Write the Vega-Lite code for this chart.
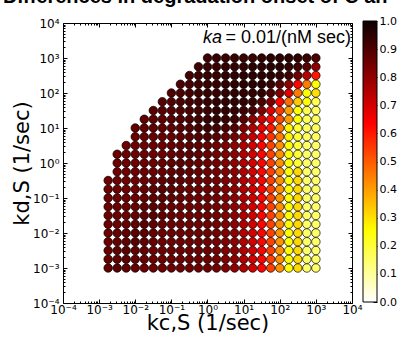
{
"$schema": "https://vega.github.io/schema/vega-lite/v6.json",
"autosize": {"type": "none"},
"padding": {"left": 63, "top": 23, "right": 48, "bottom": 39},
"width": 289,
"height": 280,
"background": "white",
"title": {"text": "Differences in degradation onset of C an", "anchor": "start", "frame": "group", "dx": -60, "offset": 8, "font": "Liberation Sans", "fontSize": 20, "fontWeight": "bold", "color": "black"},
"config": {"view": {"stroke": "black", "strokeWidth": 1}, "axis": {"grid": false, "domain": false, "tickColor": "black", "tickWidth": 1, "labelColor": "black", "labelFont": "DejaVu Sans", "labelFontSize": 12, "labelFlush": false, "labelOverlap": false, "labelBound": false}},
"datasets": {
"pts": [
{"kc":0.001778,"kd":0.001,"v":0.87},{"kc":0.003162,"kd":0.001,"v":0.88},{"kc":0.005623,"kd":0.001,"v":0.87},{"kc":0.01,"kd":0.001,"v":0.86},{"kc":0.01778,"kd":0.001,"v":0.85},{"kc":0.03162,"kd":0.001,"v":0.85},{"kc":0.05623,"kd":0.001,"v":0.85},{"kc":0.1,"kd":0.001,"v":0.85},{"kc":0.1778,"kd":0.001,"v":0.85},{"kc":0.3162,"kd":0.001,"v":0.85},{"kc":0.5623,"kd":0.001,"v":0.85},{"kc":1,"kd":0.001,"v":0.85},{"kc":1.778,"kd":0.001,"v":0.84},{"kc":3.162,"kd":0.001,"v":0.82},{"kc":5.623,"kd":0.001,"v":0.8},{"kc":10,"kd":0.001,"v":0.75},{"kc":17.78,"kd":0.001,"v":0.7},{"kc":31.62,"kd":0.001,"v":0.63},{"kc":56.23,"kd":0.001,"v":0.54},{"kc":100,"kd":0.001,"v":0.42},{"kc":177.8,"kd":0.001,"v":0.26},{"kc":316.2,"kd":0.001,"v":0.31},{"kc":562.3,"kd":0.001,"v":0.15},{"kc":1000,"kd":0.001,"v":0.15},
{"kc":0.001778,"kd":0.001778,"v":0.86},{"kc":0.003162,"kd":0.001778,"v":0.87},{"kc":0.005623,"kd":0.001778,"v":0.88},{"kc":0.01,"kd":0.001778,"v":0.87},{"kc":0.01778,"kd":0.001778,"v":0.86},{"kc":0.03162,"kd":0.001778,"v":0.85},{"kc":0.05623,"kd":0.001778,"v":0.85},{"kc":0.1,"kd":0.001778,"v":0.85},{"kc":0.1778,"kd":0.001778,"v":0.85},{"kc":0.3162,"kd":0.001778,"v":0.85},{"kc":0.5623,"kd":0.001778,"v":0.85},{"kc":1,"kd":0.001778,"v":0.85},{"kc":1.778,"kd":0.001778,"v":0.84},{"kc":3.162,"kd":0.001778,"v":0.82},{"kc":5.623,"kd":0.001778,"v":0.8},{"kc":10,"kd":0.001778,"v":0.75},{"kc":17.78,"kd":0.001778,"v":0.7},{"kc":31.62,"kd":0.001778,"v":0.63},{"kc":56.23,"kd":0.001778,"v":0.54},{"kc":100,"kd":0.001778,"v":0.42},{"kc":177.8,"kd":0.001778,"v":0.26},{"kc":316.2,"kd":0.001778,"v":0.31},{"kc":562.3,"kd":0.001778,"v":0.15},{"kc":1000,"kd":0.001778,"v":0.15},
{"kc":0.001778,"kd":0.003162,"v":0.86},{"kc":0.003162,"kd":0.003162,"v":0.87},{"kc":0.005623,"kd":0.003162,"v":0.88},{"kc":0.01,"kd":0.003162,"v":0.87},{"kc":0.01778,"kd":0.003162,"v":0.86},{"kc":0.03162,"kd":0.003162,"v":0.85},{"kc":0.05623,"kd":0.003162,"v":0.85},{"kc":0.1,"kd":0.003162,"v":0.85},{"kc":0.1778,"kd":0.003162,"v":0.85},{"kc":0.3162,"kd":0.003162,"v":0.85},{"kc":0.5623,"kd":0.003162,"v":0.85},{"kc":1,"kd":0.003162,"v":0.85},{"kc":1.778,"kd":0.003162,"v":0.84},{"kc":3.162,"kd":0.003162,"v":0.82},{"kc":5.623,"kd":0.003162,"v":0.8},{"kc":10,"kd":0.003162,"v":0.75},{"kc":17.78,"kd":0.003162,"v":0.7},{"kc":31.62,"kd":0.003162,"v":0.63},{"kc":56.23,"kd":0.003162,"v":0.54},{"kc":100,"kd":0.003162,"v":0.42},{"kc":177.8,"kd":0.003162,"v":0.26},{"kc":316.2,"kd":0.003162,"v":0.31},{"kc":562.3,"kd":0.003162,"v":0.15},{"kc":1000,"kd":0.003162,"v":0.15},
{"kc":0.001778,"kd":0.005623,"v":0.85},{"kc":0.003162,"kd":0.005623,"v":0.86},{"kc":0.005623,"kd":0.005623,"v":0.87},{"kc":0.01,"kd":0.005623,"v":0.88},{"kc":0.01778,"kd":0.005623,"v":0.87},{"kc":0.03162,"kd":0.005623,"v":0.86},{"kc":0.05623,"kd":0.005623,"v":0.85},{"kc":0.1,"kd":0.005623,"v":0.85},{"kc":0.1778,"kd":0.005623,"v":0.85},{"kc":0.3162,"kd":0.005623,"v":0.85},{"kc":0.5623,"kd":0.005623,"v":0.85},{"kc":1,"kd":0.005623,"v":0.85},{"kc":1.778,"kd":0.005623,"v":0.84},{"kc":3.162,"kd":0.005623,"v":0.82},{"kc":5.623,"kd":0.005623,"v":0.8},{"kc":10,"kd":0.005623,"v":0.75},{"kc":17.78,"kd":0.005623,"v":0.7},{"kc":31.62,"kd":0.005623,"v":0.63},{"kc":56.23,"kd":0.005623,"v":0.54},{"kc":100,"kd":0.005623,"v":0.42},{"kc":177.8,"kd":0.005623,"v":0.26},{"kc":316.2,"kd":0.005623,"v":0.31},{"kc":562.3,"kd":0.005623,"v":0.15},{"kc":1000,"kd":0.005623,"v":0.15},
{"kc":0.001778,"kd":0.01,"v":0.85},{"kc":0.003162,"kd":0.01,"v":0.86},{"kc":0.005623,"kd":0.01,"v":0.87},{"kc":0.01,"kd":0.01,"v":0.88},{"kc":0.01778,"kd":0.01,"v":0.87},{"kc":0.03162,"kd":0.01,"v":0.86},{"kc":0.05623,"kd":0.01,"v":0.85},{"kc":0.1,"kd":0.01,"v":0.85},{"kc":0.1778,"kd":0.01,"v":0.85},{"kc":0.3162,"kd":0.01,"v":0.85},{"kc":0.5623,"kd":0.01,"v":0.85},{"kc":1,"kd":0.01,"v":0.85},{"kc":1.778,"kd":0.01,"v":0.84},{"kc":3.162,"kd":0.01,"v":0.82},{"kc":5.623,"kd":0.01,"v":0.8},{"kc":10,"kd":0.01,"v":0.75},{"kc":17.78,"kd":0.01,"v":0.7},{"kc":31.62,"kd":0.01,"v":0.63},{"kc":56.23,"kd":0.01,"v":0.54},{"kc":100,"kd":0.01,"v":0.42},{"kc":177.8,"kd":0.01,"v":0.26},{"kc":316.2,"kd":0.01,"v":0.31},{"kc":562.3,"kd":0.01,"v":0.15},{"kc":1000,"kd":0.01,"v":0.15},
{"kc":0.001778,"kd":0.01778,"v":0.85},{"kc":0.003162,"kd":0.01778,"v":0.85},{"kc":0.005623,"kd":0.01778,"v":0.86},{"kc":0.01,"kd":0.01778,"v":0.87},{"kc":0.01778,"kd":0.01778,"v":0.88},{"kc":0.03162,"kd":0.01778,"v":0.87},{"kc":0.05623,"kd":0.01778,"v":0.86},{"kc":0.1,"kd":0.01778,"v":0.85},{"kc":0.1778,"kd":0.01778,"v":0.85},{"kc":0.3162,"kd":0.01778,"v":0.85},{"kc":0.5623,"kd":0.01778,"v":0.85},{"kc":1,"kd":0.01778,"v":0.85},{"kc":1.778,"kd":0.01778,"v":0.84},{"kc":3.162,"kd":0.01778,"v":0.82},{"kc":5.623,"kd":0.01778,"v":0.8},{"kc":10,"kd":0.01778,"v":0.75},{"kc":17.78,"kd":0.01778,"v":0.7},{"kc":31.62,"kd":0.01778,"v":0.63},{"kc":56.23,"kd":0.01778,"v":0.54},{"kc":100,"kd":0.01778,"v":0.42},{"kc":177.8,"kd":0.01778,"v":0.26},{"kc":316.2,"kd":0.01778,"v":0.31},{"kc":562.3,"kd":0.01778,"v":0.15},{"kc":1000,"kd":0.01778,"v":0.15},
{"kc":0.001778,"kd":0.03162,"v":0.85},{"kc":0.003162,"kd":0.03162,"v":0.85},{"kc":0.005623,"kd":0.03162,"v":0.85},{"kc":0.01,"kd":0.03162,"v":0.86},{"kc":0.01778,"kd":0.03162,"v":0.87},{"kc":0.03162,"kd":0.03162,"v":0.88},{"kc":0.05623,"kd":0.03162,"v":0.87},{"kc":0.1,"kd":0.03162,"v":0.86},{"kc":0.1778,"kd":0.03162,"v":0.85},{"kc":0.3162,"kd":0.03162,"v":0.85},{"kc":0.5623,"kd":0.03162,"v":0.85},{"kc":1,"kd":0.03162,"v":0.85},{"kc":1.778,"kd":0.03162,"v":0.84},{"kc":3.162,"kd":0.03162,"v":0.82},{"kc":5.623,"kd":0.03162,"v":0.8},{"kc":10,"kd":0.03162,"v":0.75},{"kc":17.78,"kd":0.03162,"v":0.7},{"kc":31.62,"kd":0.03162,"v":0.63},{"kc":56.23,"kd":0.03162,"v":0.54},{"kc":100,"kd":0.03162,"v":0.42},{"kc":177.8,"kd":0.03162,"v":0.26},{"kc":316.2,"kd":0.03162,"v":0.31},{"kc":562.3,"kd":0.03162,"v":0.15},{"kc":1000,"kd":0.03162,"v":0.15},
{"kc":0.001778,"kd":0.05623,"v":0.85},{"kc":0.003162,"kd":0.05623,"v":0.85},{"kc":0.005623,"kd":0.05623,"v":0.85},{"kc":0.01,"kd":0.05623,"v":0.86},{"kc":0.01778,"kd":0.05623,"v":0.87},{"kc":0.03162,"kd":0.05623,"v":0.88},{"kc":0.05623,"kd":0.05623,"v":0.87},{"kc":0.1,"kd":0.05623,"v":0.86},{"kc":0.1778,"kd":0.05623,"v":0.85},{"kc":0.3162,"kd":0.05623,"v":0.85},{"kc":0.5623,"kd":0.05623,"v":0.85},{"kc":1,"kd":0.05623,"v":0.85},{"kc":1.778,"kd":0.05623,"v":0.84},{"kc":3.162,"kd":0.05623,"v":0.82},{"kc":5.623,"kd":0.05623,"v":0.8},{"kc":10,"kd":0.05623,"v":0.75},{"kc":17.78,"kd":0.05623,"v":0.7},{"kc":31.62,"kd":0.05623,"v":0.63},{"kc":56.23,"kd":0.05623,"v":0.54},{"kc":100,"kd":0.05623,"v":0.42},{"kc":177.8,"kd":0.05623,"v":0.26},{"kc":316.2,"kd":0.05623,"v":0.31},{"kc":562.3,"kd":0.05623,"v":0.15},{"kc":1000,"kd":0.05623,"v":0.15},
{"kc":0.001778,"kd":0.1,"v":0.85},{"kc":0.003162,"kd":0.1,"v":0.85},{"kc":0.005623,"kd":0.1,"v":0.85},{"kc":0.01,"kd":0.1,"v":0.85},{"kc":0.01778,"kd":0.1,"v":0.86},{"kc":0.03162,"kd":0.1,"v":0.87},{"kc":0.05623,"kd":0.1,"v":0.88},{"kc":0.1,"kd":0.1,"v":0.87},{"kc":0.1778,"kd":0.1,"v":0.86},{"kc":0.3162,"kd":0.1,"v":0.85},{"kc":0.5623,"kd":0.1,"v":0.85},{"kc":1,"kd":0.1,"v":0.85},{"kc":1.778,"kd":0.1,"v":0.84},{"kc":3.162,"kd":0.1,"v":0.82},{"kc":5.623,"kd":0.1,"v":0.8},{"kc":10,"kd":0.1,"v":0.75},{"kc":17.78,"kd":0.1,"v":0.7},{"kc":31.62,"kd":0.1,"v":0.63},{"kc":56.23,"kd":0.1,"v":0.54},{"kc":100,"kd":0.1,"v":0.42},{"kc":177.8,"kd":0.1,"v":0.26},{"kc":316.2,"kd":0.1,"v":0.31},{"kc":562.3,"kd":0.1,"v":0.15},{"kc":1000,"kd":0.1,"v":0.15},
{"kc":0.001778,"kd":0.1778,"v":0.85},{"kc":0.003162,"kd":0.1778,"v":0.85},{"kc":0.005623,"kd":0.1778,"v":0.85},{"kc":0.01,"kd":0.1778,"v":0.85},{"kc":0.01778,"kd":0.1778,"v":0.86},{"kc":0.03162,"kd":0.1778,"v":0.87},{"kc":0.05623,"kd":0.1778,"v":0.88},{"kc":0.1,"kd":0.1778,"v":0.87},{"kc":0.1778,"kd":0.1778,"v":0.86},{"kc":0.3162,"kd":0.1778,"v":0.85},{"kc":0.5623,"kd":0.1778,"v":0.85},{"kc":1,"kd":0.1778,"v":0.85},{"kc":1.778,"kd":0.1778,"v":0.84},{"kc":3.162,"kd":0.1778,"v":0.82},{"kc":5.623,"kd":0.1778,"v":0.8},{"kc":10,"kd":0.1778,"v":0.75},{"kc":17.78,"kd":0.1778,"v":0.7},{"kc":31.62,"kd":0.1778,"v":0.63},{"kc":56.23,"kd":0.1778,"v":0.54},{"kc":100,"kd":0.1778,"v":0.42},{"kc":177.8,"kd":0.1778,"v":0.26},{"kc":316.2,"kd":0.1778,"v":0.31},{"kc":562.3,"kd":0.1778,"v":0.15},{"kc":1000,"kd":0.1778,"v":0.15},
{"kc":0.001778,"kd":0.3162,"v":0.85},{"kc":0.003162,"kd":0.3162,"v":0.85},{"kc":0.005623,"kd":0.3162,"v":0.85},{"kc":0.01,"kd":0.3162,"v":0.85},{"kc":0.01778,"kd":0.3162,"v":0.85},{"kc":0.03162,"kd":0.3162,"v":0.86},{"kc":0.05623,"kd":0.3162,"v":0.87},{"kc":0.1,"kd":0.3162,"v":0.88},{"kc":0.1778,"kd":0.3162,"v":0.87},{"kc":0.3162,"kd":0.3162,"v":0.86},{"kc":0.5623,"kd":0.3162,"v":0.85},{"kc":1,"kd":0.3162,"v":0.85},{"kc":1.778,"kd":0.3162,"v":0.84},{"kc":3.162,"kd":0.3162,"v":0.82},{"kc":5.623,"kd":0.3162,"v":0.8},{"kc":10,"kd":0.3162,"v":0.75},{"kc":17.78,"kd":0.3162,"v":0.7},{"kc":31.62,"kd":0.3162,"v":0.63},{"kc":56.23,"kd":0.3162,"v":0.54},{"kc":100,"kd":0.3162,"v":0.42},{"kc":177.8,"kd":0.3162,"v":0.26},{"kc":316.2,"kd":0.3162,"v":0.31},{"kc":562.3,"kd":0.3162,"v":0.15},{"kc":1000,"kd":0.3162,"v":0.15},
{"kc":0.003162,"kd":0.5623,"v":0.85},{"kc":0.005623,"kd":0.5623,"v":0.85},{"kc":0.01,"kd":0.5623,"v":0.85},{"kc":0.01778,"kd":0.5623,"v":0.85},{"kc":0.03162,"kd":0.5623,"v":0.85},{"kc":0.05623,"kd":0.5623,"v":0.86},{"kc":0.1,"kd":0.5623,"v":0.87},{"kc":0.1778,"kd":0.5623,"v":0.88},{"kc":0.3162,"kd":0.5623,"v":0.87},{"kc":0.5623,"kd":0.5623,"v":0.86},{"kc":1,"kd":0.5623,"v":0.85},{"kc":1.778,"kd":0.5623,"v":0.84},{"kc":3.162,"kd":0.5623,"v":0.82},{"kc":5.623,"kd":0.5623,"v":0.8},{"kc":10,"kd":0.5623,"v":0.75},{"kc":17.78,"kd":0.5623,"v":0.7},{"kc":31.62,"kd":0.5623,"v":0.63},{"kc":56.23,"kd":0.5623,"v":0.54},{"kc":100,"kd":0.5623,"v":0.42},{"kc":177.8,"kd":0.5623,"v":0.26},{"kc":316.2,"kd":0.5623,"v":0.31},{"kc":562.3,"kd":0.5623,"v":0.15},{"kc":1000,"kd":0.5623,"v":0.15},
{"kc":0.003162,"kd":1,"v":0.85},{"kc":0.005623,"kd":1,"v":0.85},{"kc":0.01,"kd":1,"v":0.85},{"kc":0.01778,"kd":1,"v":0.85},{"kc":0.03162,"kd":1,"v":0.85},{"kc":0.05623,"kd":1,"v":0.86},{"kc":0.1,"kd":1,"v":0.87},{"kc":0.1778,"kd":1,"v":0.88},{"kc":0.3162,"kd":1,"v":0.87},{"kc":0.5623,"kd":1,"v":0.86},{"kc":1,"kd":1,"v":0.85},{"kc":1.778,"kd":1,"v":0.84},{"kc":3.162,"kd":1,"v":0.82},{"kc":5.623,"kd":1,"v":0.8},{"kc":10,"kd":1,"v":0.75},{"kc":17.78,"kd":1,"v":0.7},{"kc":31.62,"kd":1,"v":0.63},{"kc":56.23,"kd":1,"v":0.54},{"kc":100,"kd":1,"v":0.42},{"kc":177.8,"kd":1,"v":0.26},{"kc":316.2,"kd":1,"v":0.2},{"kc":562.3,"kd":1,"v":0.15},{"kc":1000,"kd":1,"v":0.15},
{"kc":0.003162,"kd":1.778,"v":0.85},{"kc":0.005623,"kd":1.778,"v":0.85},{"kc":0.01,"kd":1.778,"v":0.85},{"kc":0.01778,"kd":1.778,"v":0.85},{"kc":0.03162,"kd":1.778,"v":0.85},{"kc":0.05623,"kd":1.778,"v":0.85},{"kc":0.1,"kd":1.778,"v":0.86},{"kc":0.1778,"kd":1.778,"v":0.87},{"kc":0.3162,"kd":1.778,"v":0.88},{"kc":0.5623,"kd":1.778,"v":0.87},{"kc":1,"kd":1.778,"v":0.86},{"kc":1.778,"kd":1.778,"v":0.84},{"kc":3.162,"kd":1.778,"v":0.82},{"kc":5.623,"kd":1.778,"v":0.8},{"kc":10,"kd":1.778,"v":0.75},{"kc":17.78,"kd":1.778,"v":0.7},{"kc":31.62,"kd":1.778,"v":0.63},{"kc":56.23,"kd":1.778,"v":0.54},{"kc":100,"kd":1.778,"v":0.42},{"kc":177.8,"kd":1.778,"v":0.26},{"kc":316.2,"kd":1.778,"v":0.2},{"kc":562.3,"kd":1.778,"v":0.15},{"kc":1000,"kd":1.778,"v":0.15},
{"kc":0.005623,"kd":3.162,"v":0.85},{"kc":0.01,"kd":3.162,"v":0.85},{"kc":0.01778,"kd":3.162,"v":0.85},{"kc":0.03162,"kd":3.162,"v":0.85},{"kc":0.05623,"kd":3.162,"v":0.85},{"kc":0.1,"kd":3.162,"v":0.86},{"kc":0.1778,"kd":3.162,"v":0.87},{"kc":0.3162,"kd":3.162,"v":0.88},{"kc":0.5623,"kd":3.162,"v":0.87},{"kc":1,"kd":3.162,"v":0.86},{"kc":1.778,"kd":3.162,"v":0.84},{"kc":3.162,"kd":3.162,"v":0.82},{"kc":5.623,"kd":3.162,"v":0.8},{"kc":10,"kd":3.162,"v":0.75},{"kc":17.78,"kd":3.162,"v":0.7},{"kc":31.62,"kd":3.162,"v":0.63},{"kc":56.23,"kd":3.162,"v":0.54},{"kc":100,"kd":3.162,"v":0.42},{"kc":177.8,"kd":3.162,"v":0.26},{"kc":316.2,"kd":3.162,"v":0.2},{"kc":562.3,"kd":3.162,"v":0.15},{"kc":1000,"kd":3.162,"v":0.15},
{"kc":0.01,"kd":5.623,"v":0.86},{"kc":0.01778,"kd":5.623,"v":0.86},{"kc":0.03162,"kd":5.623,"v":0.86},{"kc":0.05623,"kd":5.623,"v":0.86},{"kc":0.1,"kd":5.623,"v":0.86},{"kc":0.1778,"kd":5.623,"v":0.87},{"kc":0.3162,"kd":5.623,"v":0.88},{"kc":0.5623,"kd":5.623,"v":0.89},{"kc":1,"kd":5.623,"v":0.9},{"kc":1.778,"kd":5.623,"v":0.88},{"kc":3.162,"kd":5.623,"v":0.86},{"kc":5.623,"kd":5.623,"v":0.84},{"kc":10,"kd":5.623,"v":0.78},{"kc":17.78,"kd":5.623,"v":0.72},{"kc":31.62,"kd":5.623,"v":0.64},{"kc":56.23,"kd":5.623,"v":0.56},{"kc":100,"kd":5.623,"v":0.45},{"kc":177.8,"kd":5.623,"v":0.27},{"kc":316.2,"kd":5.623,"v":0.2},{"kc":562.3,"kd":5.623,"v":0.16},{"kc":1000,"kd":5.623,"v":0.16},
{"kc":0.01,"kd":10,"v":0.87},{"kc":0.01778,"kd":10,"v":0.87},{"kc":0.03162,"kd":10,"v":0.87},{"kc":0.05623,"kd":10,"v":0.87},{"kc":0.1,"kd":10,"v":0.87},{"kc":0.1778,"kd":10,"v":0.88},{"kc":0.3162,"kd":10,"v":0.89},{"kc":0.5623,"kd":10,"v":0.91},{"kc":1,"kd":10,"v":0.92},{"kc":1.778,"kd":10,"v":0.91},{"kc":3.162,"kd":10,"v":0.9},{"kc":5.623,"kd":10,"v":0.89},{"kc":10,"kd":10,"v":0.82},{"kc":17.78,"kd":10,"v":0.74},{"kc":31.62,"kd":10,"v":0.66},{"kc":56.23,"kd":10,"v":0.6},{"kc":100,"kd":10,"v":0.45},{"kc":177.8,"kd":10,"v":0.27},{"kc":316.2,"kd":10,"v":0.2},{"kc":562.3,"kd":10,"v":0.16},{"kc":1000,"kd":10,"v":0.16},
{"kc":0.01778,"kd":17.78,"v":0.87},{"kc":0.03162,"kd":17.78,"v":0.87},{"kc":0.05623,"kd":17.78,"v":0.87},{"kc":0.1,"kd":17.78,"v":0.88},{"kc":0.1778,"kd":17.78,"v":0.89},{"kc":0.3162,"kd":17.78,"v":0.9},{"kc":0.5623,"kd":17.78,"v":0.91},{"kc":1,"kd":17.78,"v":0.93},{"kc":1.778,"kd":17.78,"v":0.94},{"kc":3.162,"kd":17.78,"v":0.93},{"kc":5.623,"kd":17.78,"v":0.92},{"kc":10,"kd":17.78,"v":0.88},{"kc":17.78,"kd":17.78,"v":0.8},{"kc":31.62,"kd":17.78,"v":0.7},{"kc":56.23,"kd":17.78,"v":0.62},{"kc":100,"kd":17.78,"v":0.52},{"kc":177.8,"kd":17.78,"v":0.4},{"kc":316.2,"kd":17.78,"v":0.25},{"kc":562.3,"kd":17.78,"v":0.17},{"kc":1000,"kd":17.78,"v":0.16},
{"kc":0.03162,"kd":31.62,"v":0.88},{"kc":0.05623,"kd":31.62,"v":0.88},{"kc":0.1,"kd":31.62,"v":0.88},{"kc":0.1778,"kd":31.62,"v":0.89},{"kc":0.3162,"kd":31.62,"v":0.9},{"kc":0.5623,"kd":31.62,"v":0.91},{"kc":1,"kd":31.62,"v":0.92},{"kc":1.778,"kd":31.62,"v":0.94},{"kc":3.162,"kd":31.62,"v":0.94},{"kc":5.623,"kd":31.62,"v":0.93},{"kc":10,"kd":31.62,"v":0.92},{"kc":17.78,"kd":31.62,"v":0.9},{"kc":31.62,"kd":31.62,"v":0.82},{"kc":56.23,"kd":31.62,"v":0.68},{"kc":100,"kd":31.62,"v":0.55},{"kc":177.8,"kd":31.62,"v":0.4},{"kc":316.2,"kd":31.62,"v":0.25},{"kc":562.3,"kd":31.62,"v":0.18},{"kc":1000,"kd":31.62,"v":0.16},
{"kc":0.05623,"kd":56.23,"v":0.88},{"kc":0.1,"kd":56.23,"v":0.89},{"kc":0.1778,"kd":56.23,"v":0.9},{"kc":0.3162,"kd":56.23,"v":0.91},{"kc":0.5623,"kd":56.23,"v":0.92},{"kc":1,"kd":56.23,"v":0.93},{"kc":1.778,"kd":56.23,"v":0.94},{"kc":3.162,"kd":56.23,"v":0.94},{"kc":5.623,"kd":56.23,"v":0.94},{"kc":10,"kd":56.23,"v":0.94},{"kc":17.78,"kd":56.23,"v":0.93},{"kc":31.62,"kd":56.23,"v":0.9},{"kc":56.23,"kd":56.23,"v":0.83},{"kc":100,"kd":56.23,"v":0.63},{"kc":177.8,"kd":56.23,"v":0.47},{"kc":316.2,"kd":56.23,"v":0.33},{"kc":562.3,"kd":56.23,"v":0.25},{"kc":1000,"kd":56.23,"v":0.17},
{"kc":0.1,"kd":100,"v":0.89},{"kc":0.1778,"kd":100,"v":0.9},{"kc":0.3162,"kd":100,"v":0.91},{"kc":0.5623,"kd":100,"v":0.92},{"kc":1,"kd":100,"v":0.93},{"kc":1.778,"kd":100,"v":0.93},{"kc":3.162,"kd":100,"v":0.94},{"kc":5.623,"kd":100,"v":0.94},{"kc":10,"kd":100,"v":0.94},{"kc":17.78,"kd":100,"v":0.94},{"kc":31.62,"kd":100,"v":0.94},{"kc":56.23,"kd":100,"v":0.9},{"kc":100,"kd":100,"v":0.82},{"kc":177.8,"kd":100,"v":0.68},{"kc":316.2,"kd":100,"v":0.45},{"kc":562.3,"kd":100,"v":0.25},{"kc":1000,"kd":100,"v":0.3},
{"kc":0.1778,"kd":177.8,"v":0.9},{"kc":0.3162,"kd":177.8,"v":0.91},{"kc":0.5623,"kd":177.8,"v":0.92},{"kc":1,"kd":177.8,"v":0.93},{"kc":1.778,"kd":177.8,"v":0.93},{"kc":3.162,"kd":177.8,"v":0.94},{"kc":5.623,"kd":177.8,"v":0.94},{"kc":10,"kd":177.8,"v":0.95},{"kc":17.78,"kd":177.8,"v":0.95},{"kc":31.62,"kd":177.8,"v":0.95},{"kc":56.23,"kd":177.8,"v":0.93},{"kc":100,"kd":177.8,"v":0.88},{"kc":177.8,"kd":177.8,"v":0.8},{"kc":316.2,"kd":177.8,"v":0.63},{"kc":562.3,"kd":177.8,"v":0.45},{"kc":1000,"kd":177.8,"v":0.25},
{"kc":0.3162,"kd":316.2,"v":0.91},{"kc":0.5623,"kd":316.2,"v":0.92},{"kc":1,"kd":316.2,"v":0.93},{"kc":1.778,"kd":316.2,"v":0.93},{"kc":3.162,"kd":316.2,"v":0.94},{"kc":5.623,"kd":316.2,"v":0.94},{"kc":10,"kd":316.2,"v":0.95},{"kc":17.78,"kd":316.2,"v":0.95},{"kc":31.62,"kd":316.2,"v":0.95},{"kc":56.23,"kd":316.2,"v":0.95},{"kc":100,"kd":316.2,"v":0.94},{"kc":177.8,"kd":316.2,"v":0.92},{"kc":316.2,"kd":316.2,"v":0.85},{"kc":562.3,"kd":316.2,"v":0.74},{"kc":1000,"kd":316.2,"v":0.6},
{"kc":0.5623,"kd":562.3,"v":0.92},{"kc":1,"kd":562.3,"v":0.93},{"kc":1.778,"kd":562.3,"v":0.93},{"kc":3.162,"kd":562.3,"v":0.94},{"kc":5.623,"kd":562.3,"v":0.94},{"kc":10,"kd":562.3,"v":0.94},{"kc":17.78,"kd":562.3,"v":0.95},{"kc":31.62,"kd":562.3,"v":0.95},{"kc":56.23,"kd":562.3,"v":0.95},{"kc":100,"kd":562.3,"v":0.95},{"kc":177.8,"kd":562.3,"v":0.94},{"kc":316.2,"kd":562.3,"v":0.92},{"kc":562.3,"kd":562.3,"v":0.88},{"kc":1000,"kd":562.3,"v":0.8},
{"kc":1,"kd":1000,"v":0.92},{"kc":1.778,"kd":1000,"v":0.93},{"kc":3.162,"kd":1000,"v":0.93},{"kc":5.623,"kd":1000,"v":0.93},{"kc":10,"kd":1000,"v":0.93},{"kc":17.78,"kd":1000,"v":0.93},{"kc":31.62,"kd":1000,"v":0.94},{"kc":56.23,"kd":1000,"v":0.95},{"kc":100,"kd":1000,"v":0.95},{"kc":177.8,"kd":1000,"v":0.95},{"kc":316.2,"kd":1000,"v":0.94},{"kc":562.3,"kd":1000,"v":0.93},{"kc":1000,"kd":1000,"v":0.9}
],
"anchor": [{"kc": 1, "kd": 1}],
"bar": [{"x0": 0, "x1": 1, "lo": 0, "hi": 1}]
},
"layer": [
{
"layer": [
{
"data": {"name": "pts"},
"mark": {"type": "circle", "size": 72, "opacity": 1, "stroke": "black", "strokeWidth": 0.7},
"encoding": {
"x": {"field": "kc", "type": "quantitative", "scale": {"type": "log", "domain": [0.0001, 10000], "nice": false},
"axis": {"orient": "bottom", "values": [0.0001,0.001,0.01,0.1,1,10,100,1000,10000], "tickSize": -4, "labelPadding": 5, "labelExpr": "'10' + (datum.value < 0.9 ? '⁻' : '') + ['⁰','¹','²','³','⁴'][abs(round(log(datum.value)/LN10))]", "title": "kc,S (1/sec)", "titleFont": "DejaVu Sans", "titleFontSize": 21, "titleFontWeight": "normal", "titleColor": "black", "titleY": 26, "titleBaseline": "alphabetic"}},
"y": {"field": "kd", "type": "quantitative", "scale": {"type": "log", "domain": [0.0001, 10000], "nice": false},
"axis": {"orient": "left", "values": [0.0001,0.001,0.01,0.1,1,10,100,1000,10000], "tickSize": -4, "labelPadding": 8, "labelExpr": "'10' + (datum.value < 0.9 ? '⁻' : '') + ['⁰','¹','²','³','⁴'][abs(round(log(datum.value)/LN10))]", "title": "kd,S (1/sec)", "titleFont": "DejaVu Sans", "titleFontSize": 21, "titleFontWeight": "normal", "titleColor": "black", "titleX": -35, "titleY": 140, "titleAngle": -90, "titleAlign": "center", "titleBaseline": "alphabetic"}},
"fill": {"field": "v", "type": "quantitative",
"scale": {"type": "linear", "domain": [0, 0.254, 0.635, 1], "range": ["#ffffff", "#ffff00", "#ff0000", "#0b0000"], "interpolate": "rgb", "clamp": true},
"legend": null}
}
},
{
"data": {"name": "anchor"},
"mark": {"type": "point", "opacity": 0},
"encoding": {
"x": {"field": "kc", "type": "quantitative", "scale": {"type": "log", "domain": [0.0001, 10000], "nice": false},
"axis": {"orient": "bottom", "values": [0.0002,0.0003,0.0004,0.0005,0.0006,0.0007,0.0008,0.0009,0.002,0.003,0.004,0.005,0.006,0.007,0.008,0.009,0.02,0.03,0.04,0.05,0.06,0.07,0.08,0.09,0.2,0.3,0.4,0.5,0.6,0.7,0.8,0.9,2,3,4,5,6,7,8,9,20,30,40,50,60,70,80,90,200,300,400,500,600,700,800,900,2000,3000,4000,5000,6000,7000,8000,9000], "tickSize": -2, "labels": false, "title": null}},
"y": {"field": "kd", "type": "quantitative", "scale": {"type": "log", "domain": [0.0001, 10000], "nice": false},
"axis": {"orient": "left", "values": [0.0002,0.0003,0.0004,0.0005,0.0006,0.0007,0.0008,0.0009,0.002,0.003,0.004,0.005,0.006,0.007,0.008,0.009,0.02,0.03,0.04,0.05,0.06,0.07,0.08,0.09,0.2,0.3,0.4,0.5,0.6,0.7,0.8,0.9,2,3,4,5,6,7,8,9,20,30,40,50,60,70,80,90,200,300,400,500,600,700,800,900,2000,3000,4000,5000,6000,7000,8000,9000], "tickSize": -2, "labels": false, "title": null}}
}
},
{
"data": {"name": "anchor"},
"mark": {"type": "point", "opacity": 0},
"encoding": {
"x": {"field": "kc", "type": "quantitative", "scale": {"type": "log", "domain": [0.0001, 10000], "nice": false},
"axis": {"orient": "top", "values": [0.0001,0.001,0.01,0.1,1,10,100,1000,10000], "tickSize": -4, "labels": false, "title": null}},
"y": {"field": "kd", "type": "quantitative", "scale": {"type": "log", "domain": [0.0001, 10000], "nice": false},
"axis": {"orient": "right", "values": [0.0001,0.001,0.01,0.1,1,10,100,1000,10000], "tickSize": -4, "labels": false, "title": null}}
}
},
{
"data": {"name": "anchor"},
"mark": {"type": "point", "opacity": 0},
"encoding": {
"x": {"field": "kc", "type": "quantitative", "scale": {"type": "log", "domain": [0.0001, 10000], "nice": false},
"axis": {"orient": "top", "values": [0.0002,0.0003,0.0004,0.0005,0.0006,0.0007,0.0008,0.0009,0.002,0.003,0.004,0.005,0.006,0.007,0.008,0.009,0.02,0.03,0.04,0.05,0.06,0.07,0.08,0.09,0.2,0.3,0.4,0.5,0.6,0.7,0.8,0.9,2,3,4,5,6,7,8,9,20,30,40,50,60,70,80,90,200,300,400,500,600,700,800,900,2000,3000,4000,5000,6000,7000,8000,9000], "tickSize": -2, "labels": false, "title": null}},
"y": {"field": "kd", "type": "quantitative", "scale": {"type": "log", "domain": [0.0001, 10000], "nice": false},
"axis": {"orient": "right", "values": [0.0002,0.0003,0.0004,0.0005,0.0006,0.0007,0.0008,0.0009,0.002,0.003,0.004,0.005,0.006,0.007,0.008,0.009,0.02,0.03,0.04,0.05,0.06,0.07,0.08,0.09,0.2,0.3,0.4,0.5,0.6,0.7,0.8,0.9,2,3,4,5,6,7,8,9,20,30,40,50,60,70,80,90,200,300,400,500,600,700,800,900,2000,3000,4000,5000,6000,7000,8000,9000], "tickSize": -2, "labels": false, "title": null}}
}
},
{
"data": {"values": [{"kc": 0.75, "kd": 2690, "t": "ka"}]},
"mark": {"type": "text", "font": "Liberation Sans", "fontSize": 18, "fontStyle": "italic", "align": "left", "baseline": "alphabetic", "color": "black"},
"encoding": {
"x": {"field": "kc", "type": "quantitative", "scale": {"type": "log", "domain": [0.0001, 10000], "nice": false}, "axis": null},
"y": {"field": "kd", "type": "quantitative", "scale": {"type": "log", "domain": [0.0001, 10000], "nice": false}, "axis": null},
"text": {"field": "t"}
}
},
{
"data": {"values": [{"kc": 9380, "kd": 2690, "t": "= 0.01/(nM sec)"}]},
"mark": {"type": "text", "font": "Liberation Sans", "fontSize": 18, "align": "right", "baseline": "alphabetic", "color": "black"},
"encoding": {
"x": {"field": "kc", "type": "quantitative", "scale": {"type": "log", "domain": [0.0001, 10000], "nice": false}, "axis": null},
"y": {"field": "kd", "type": "quantitative", "scale": {"type": "log", "domain": [0.0001, 10000], "nice": false}, "axis": null},
"text": {"field": "t"}
}
}
],
"resolve": {"axis": {"x": "independent", "y": "independent"}}
},
{
"data": {"name": "bar"},
"mark": {"type": "rect", "stroke": "black", "strokeWidth": 1, "fill": {"gradient": "linear", "x1": 0, "y1": 1, "x2": 0, "y2": 0, "stops": [{"offset": 0, "color": "#ffffff"}, {"offset": 0.254, "color": "#ffff00"}, {"offset": 0.635, "color": "#ff0000"}, {"offset": 1, "color": "#0b0000"}]}},
"encoding": {
"x": {"field": "x0", "type": "quantitative", "scale": {"domain": [0, 1], "range": [300, 314], "nice": false, "zero": false}, "axis": null},
"x2": {"field": "x1"},
"y": {"field": "lo", "type": "quantitative", "scale": {"domain": [0, 1], "range": [279, -2], "nice": false, "zero": false},
"axis": {"orient": "right", "offset": 25, "values": [0,0.1,0.2,0.3,0.4,0.5,0.6,0.7,0.8,0.9,1], "format": ".1f", "tickSize": -4, "labelPadding": 6, "labelFontSize": 11, "title": null}},
"y2": {"field": "hi"}
}
}
],
"resolve": {"scale": {"x": "independent", "y": "independent"}, "axis": {"x": "independent", "y": "independent"}}
}
